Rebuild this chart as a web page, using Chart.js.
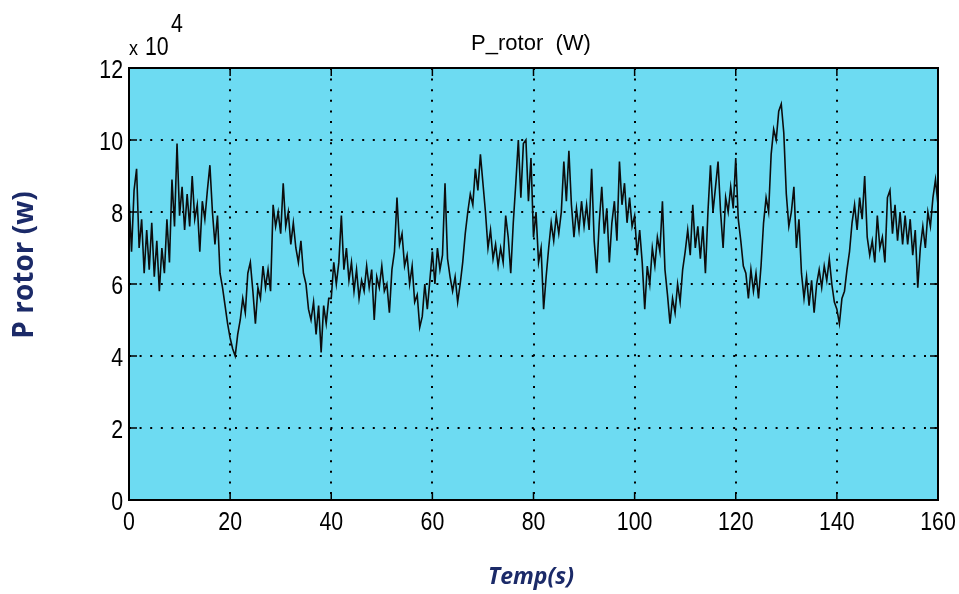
<!DOCTYPE html>
<html>
<head>
<meta charset="utf-8">
<script src="https://cdn.jsdelivr.net/npm/chart.js@4.4.1/dist/chart.umd.min.js"></script>
<style>
  html, body { margin: 0; padding: 0; background: #fff; }
  #wrap { width: 959px; height: 594px; }
</style>
</head>
<body>
<div id="wrap"><canvas id="rotorChart" width="959" height="594"></canvas></div>
<script>
const sampleStep = 0.5;
const pRotor = [
  8.4, 6.9, 8.6, 9.2, 7.0, 7.8, 6.3, 7.5, 6.4, 7.7,
  6.2, 7.2, 5.8, 7.0, 6.3, 7.8, 6.6, 8.9, 7.6, 9.9,
  7.9, 8.7, 7.5, 8.5, 7.6, 9.0, 7.8, 8.2, 6.9, 8.3,
  7.8, 8.6, 9.3, 8.0, 7.1, 7.9, 6.3, 5.9, 5.4, 4.9,
  4.5, 4.2, 4.0, 4.6, 5.0, 5.6, 5.2, 6.3, 6.6, 5.8,
  4.9, 5.9, 5.6, 6.5, 5.9, 6.4, 5.8, 8.2, 7.6, 8.0,
  7.4, 8.8, 7.6, 8.0, 7.1, 7.7, 7.0, 6.6, 7.2, 6.3,
  6.0, 5.3, 5.0, 5.5, 4.6, 5.4, 4.1, 5.4, 4.9, 5.6,
  5.6, 6.6, 6.0, 6.6, 7.9, 6.4, 7.0, 6.1, 6.6, 5.8,
  6.4, 5.6, 6.1, 5.8, 6.5, 5.9, 6.4, 5.0, 6.2, 5.9,
  6.5, 5.8, 6.0, 5.2, 6.4, 6.9, 8.4, 7.1, 7.4, 6.5,
  6.8, 6.0, 6.5, 5.5, 5.7, 4.8, 5.1, 6.0, 5.3, 6.1,
  6.9, 6.0, 7.0, 6.4, 6.8, 8.8, 6.7, 6.2, 5.8, 6.2,
  5.5, 6.0, 6.6, 7.4, 8.0, 8.5, 8.2, 9.2, 8.6, 9.6,
  8.8, 8.0, 7.0, 7.5, 6.7, 7.1, 6.5, 7.0, 6.6, 7.9,
  7.3, 6.3, 7.7, 8.8, 10.0, 8.4, 9.9, 10.0, 8.3, 9.5,
  7.3, 8.0, 6.6, 7.0, 5.3, 6.2, 7.0, 7.7, 7.2, 7.9,
  7.4, 8.0, 9.4, 8.3, 9.7, 8.2, 7.3, 8.1, 7.5, 8.3,
  7.6, 8.2, 7.5, 9.2, 7.2, 6.3, 7.7, 8.7, 7.4, 8.1,
  6.6, 7.7, 8.3, 7.2, 9.4, 8.2, 8.8, 7.7, 8.4, 7.6,
  7.9, 6.8, 7.5, 6.6, 5.3, 6.5, 6.0, 7.0, 6.5, 7.3,
  6.9, 8.3, 6.4, 5.7, 4.9, 5.6, 5.2, 6.0, 5.5, 6.4,
  6.9, 7.5, 6.8, 8.2, 7.0, 7.6, 6.7, 7.6, 6.3, 8.0,
  9.3, 8.0, 8.7, 9.4, 8.0, 7.0, 8.4, 8.0, 8.7, 8.1,
  9.5, 7.8, 7.2, 6.5, 6.3, 5.6, 6.4, 5.8, 6.3, 5.6,
  6.5, 7.7, 8.4, 8.0, 9.6, 10.3, 10.0, 10.8, 11.0, 10.2,
  8.5, 7.6, 8.0, 8.7, 7.0, 7.8, 6.3, 5.6, 6.2, 5.4,
  6.1, 5.2, 6.0, 6.4, 5.9, 6.5, 6.1, 6.7, 6.0, 5.5,
  5.3, 4.9, 5.6, 5.8, 6.4, 6.9, 7.7, 8.2, 7.5, 8.4,
  7.8, 9.0, 7.3, 6.8, 7.2, 6.6, 7.9, 7.0, 7.3, 6.6,
  8.4, 8.6, 7.4, 8.2, 7.2, 8.0, 7.1, 7.9, 7.1, 7.8,
  6.8, 7.5, 5.9, 7.0, 7.6, 7.0, 8.0, 7.6, 8.4, 8.9,
  8.2
];
const xTicks = [0, 20, 40, 60, 80, 100, 120, 140, 160];
const yTicks = [0, 2, 4, 6, 8, 10, 12];

const points = pRotor.map((v, i) => ({ x: i * sampleStep, y: v }));

const narrow = "'Liberation Sans', Arial, sans-serif";
const navy = '#1b2a68';

// draws text squeezed horizontally, like the tall narrow MATLAB font
function narrowText(ctx, text, x, y, align, sx) {
    ctx.save();
    ctx.translate(x, y);
    ctx.scale(sx, 1);
    ctx.textAlign = align;
    ctx.fillText(text, 0, 0);
    ctx.restore();
}

const decor = {
    id: 'decor',
    beforeDraw(chart) {
        const { ctx, chartArea: a } = chart;
        ctx.save();
        ctx.fillStyle = '#fff';
        ctx.fillRect(0, 0, chart.width, chart.height);
        ctx.fillStyle = '#6ddbf2';
        ctx.fillRect(a.left, a.top, a.right - a.left, a.bottom - a.top);
        ctx.restore();
    },
    afterDraw(chart) {
        const { ctx, chartArea: a, scales } = chart;
        ctx.save();
        // frame
        ctx.strokeStyle = '#000';
        ctx.lineWidth = 2;
        ctx.strokeRect(a.left, a.top, a.right - a.left, a.bottom - a.top);
        // inner tick marks, MATLAB style
        ctx.lineWidth = 1.5;
        ctx.beginPath();
        xTicks.forEach(t => {
            const px = scales.x.getPixelForValue(t);
            ctx.moveTo(px, a.bottom); ctx.lineTo(px, a.bottom - 8);
            ctx.moveTo(px, a.top); ctx.lineTo(px, a.top + 8);
        });
        yTicks.forEach(t => {
            const py = scales.y.getPixelForValue(t);
            ctx.moveTo(a.left, py); ctx.lineTo(a.left + 8, py);
            ctx.moveTo(a.right, py); ctx.lineTo(a.right - 8, py);
        });
        ctx.stroke();

        // tick labels
        ctx.fillStyle = '#000';
        ctx.textBaseline = 'alphabetic';
        ctx.font = `26px ${narrow}`;
        xTicks.forEach(t => {
            narrowText(ctx, String(t), scales.x.getPixelForValue(t), 530, 'center', 0.82);
        });
        yTicks.forEach(t => {
            narrowText(ctx, String(t), 123, scales.y.getPixelForValue(t) + 9.5, 'right', 0.82);
        });

        // title and exponent
        ctx.font = `22px ${narrow}`;
        narrowText(ctx, 'P_rotor  (W)', 531, 50, 'center', 1);
        ctx.font = `20px ${narrow}`;
        narrowText(ctx, 'x', 129, 55, 'left', 0.9);
        ctx.font = `26px ${narrow}`;
        narrowText(ctx, '10', 145, 55, 'left', 0.82);
        narrowText(ctx, '4', 171, 32, 'left', 0.82);

        // axis titles
        ctx.fillStyle = navy;
        ctx.textAlign = 'center';
        ctx.font = "bold italic 23px 'Open Sans', sans-serif";
        ctx.fillText('Temp(s)', 531, 584);
        ctx.translate(33, 265);
        ctx.rotate(-Math.PI / 2);
        ctx.font = "bold 28px 'Open Sans', sans-serif";
        ctx.fillText('P rotor (w)', 0, 0);
        ctx.restore();
    }
};

new Chart(document.getElementById('rotorChart'), {
    type: 'line',
    data: {
        datasets: [{
            label: 'P_rotor',
            data: points,
            borderColor: '#0d0d0d',
            borderWidth: 1.6,
            pointRadius: 0,
            tension: 0,
            fill: false
        }]
    },
    options: {
        responsive: false,
        animation: false,
        layout: { padding: { top: 68, right: 21, left: 0, bottom: 0 } },
        plugins: { legend: { display: false }, tooltip: { enabled: false } },
        scales: {
            x: {
                type: 'linear',
                min: 0, max: 160,
                afterFit: s => { s.height = 94; s.paddingLeft = 0; s.paddingRight = 0; },
                afterBuildTicks: s => { s.ticks = xTicks.map(v => ({ value: v })); },
                ticks: { display: false },
                grid: { color: '#000', lineWidth: 2, drawTicks: false },
                border: { display: false, dash: [2, 8.6] }
            },
            y: {
                min: 0, max: 12,
                afterFit: s => { s.width = 129; s.paddingTop = 0; s.paddingBottom = 0; },
                afterBuildTicks: s => { s.ticks = yTicks.map(v => ({ value: v })); },
                ticks: { display: false },
                grid: { color: '#000', lineWidth: 2, drawTicks: false },
                border: { display: false, dash: [2, 8.6] }
            }
        }
    },
    plugins: [decor]
});
</script>
</body>
</html>
